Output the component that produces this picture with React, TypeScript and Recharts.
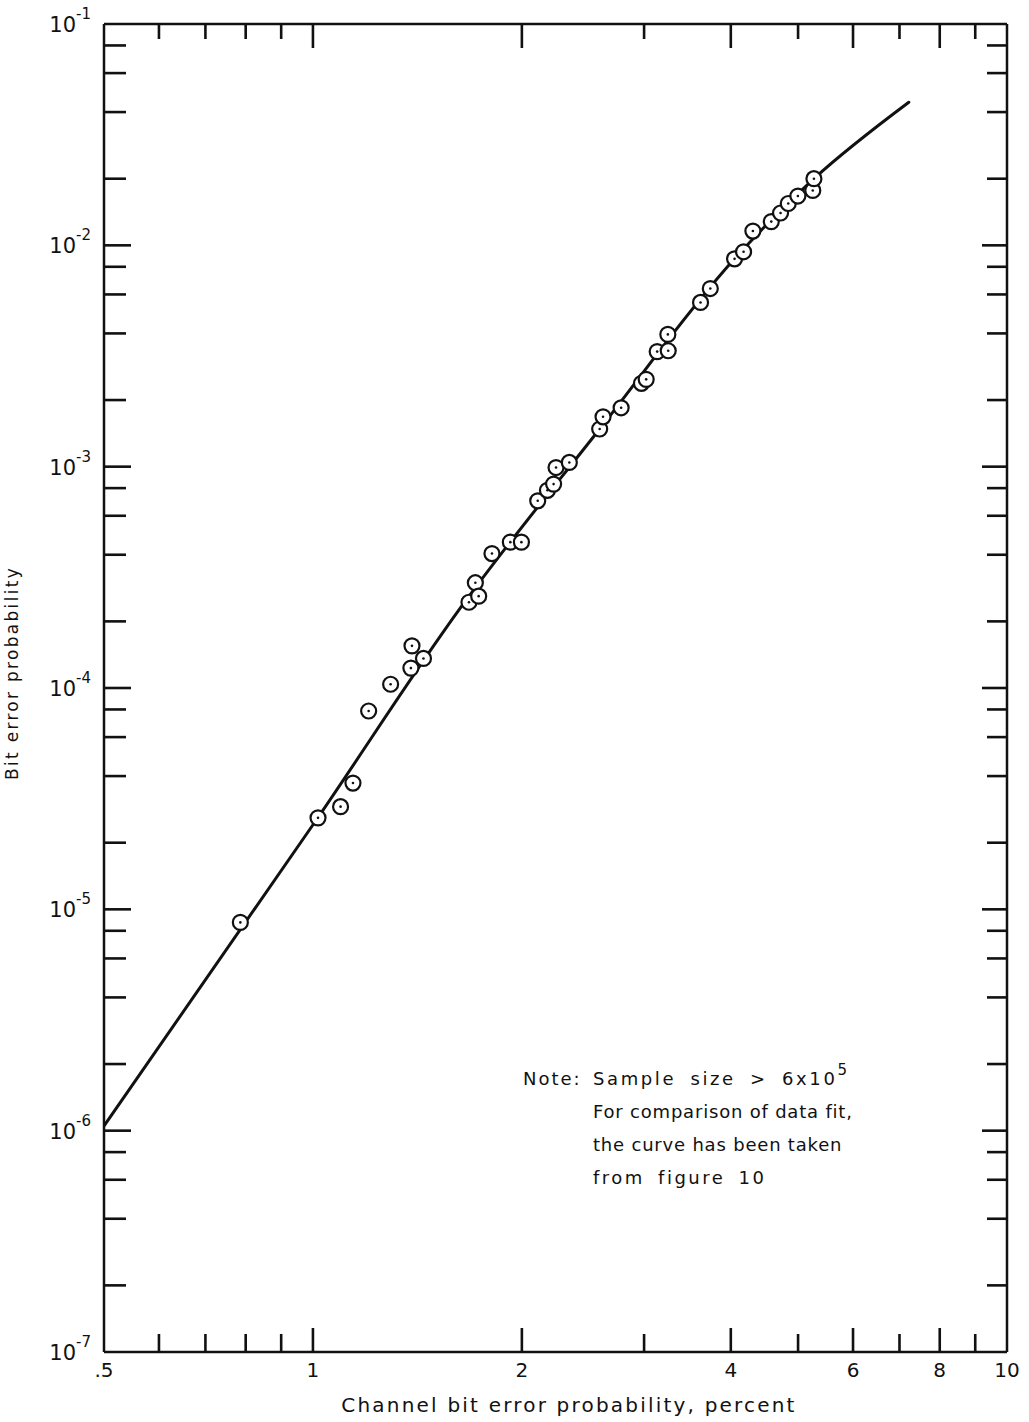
import { ComposedChart, Line, Scatter, XAxis, YAxis, Customized } from "recharts"

// measured points: channel bit error probability (percent) vs bit error probability
const pointX = [
  0.786, 1.017, 1.096, 1.142, 1.203, 1.294, 1.384, 1.389, 1.443, 1.678, 1.714, 1.733, 1.811, 1.925,
  1.997, 2.108, 2.177, 2.222, 2.24, 2.341, 2.589, 2.618, 2.78, 2.974, 3.021, 3.133, 3.25, 3.246,
  3.618, 3.737, 4.05, 4.173, 4.304, 4.575, 4.718, 4.84, 4.997, 5.25, 5.27,
]
const pointY = [
  8.73e-6, 2.59e-5, 2.91e-5, 3.72e-5, 7.87e-5, 1.04e-4, 1.23e-4, 1.55e-4, 1.36e-4, 2.44e-4, 2.99e-4,
  2.6e-4, 4.05e-4, 4.56e-4, 4.56e-4, 7.01e-4, 7.82e-4, 8.34e-4, 9.91e-4, 1.045e-3, 1.48e-3, 1.68e-3,
  1.845e-3, 2.38e-3, 2.48e-3, 3.31e-3, 3.34e-3, 3.96e-3, 5.52e-3, 6.38e-3, 8.69e-3, 9.35e-3, 1.16e-2,
  1.28e-2, 1.4e-2, 1.545e-2, 1.67e-2, 1.77e-2, 2.0e-2,
]

// curve taken from figure 10
const curveX = [0.5, 1.017, 1.631, 2.589, 4.05, 5.27, 7.22]
const curveY = [1.05e-6, 2.6e-5, 2.3e-4, 1.48e-3, 8.69e-3, 2.0e-2, 4.43e-2]

// axis ticks
const xTicks = [0.5, 0.6, 0.7, 0.8, 0.9, 1, 2, 3, 4, 5, 6, 7, 8, 9, 10]
const xMajor = [1, 2, 4, 6, 8]
const xLabels: { [k: string]: string } = { "0.5": ".5", "1": "1", "2": "2", "4": "4", "6": "6", "8": "8", "10": "10" }
const yExponents = [-7, -6, -5, -4, -3, -2, -1]
const yMultipliers = [1, 2, 4, 6, 8]

const pointData = pointX.map((x, i) => ({ x, y: pointY[i] }))
const curveData = curveX.map((x, i) => ({ x, y: curveY[i] }))

const yTicks: number[] = []
yExponents.forEach((e) => {
  yMultipliers.forEach((m) => {
    if (e === -1 && m > 1) return
    yTicks.push(Number((m * Math.pow(10, e)).toPrecision(3)))
  })
})

const FONT = "'DejaVu Sans', sans-serif"
const STROKE = "#111"

const isDecade = (v: number) => Math.abs(Math.log10(v) - Math.round(Math.log10(v))) < 1e-6

const BottomTick = (props: any) => {
  const { x, y, payload } = props
  const v = payload.value
  const len = xMajor.includes(v) ? 24 : 18
  const label = xLabels[String(v)]
  const edge = v === 0.5 || v === 10
  return (
    <g>
      {!edge && <line x1={x} x2={x} y1={y} y2={y - len} stroke={STROKE} strokeWidth={2.6} />}
      {label && (
        <text x={x} y={y + 25} textAnchor="middle" fontSize={20} fontFamily={FONT} fill={STROKE}>
          {label}
        </text>
      )}
    </g>
  )
}

const TopTick = (props: any) => {
  const { x, y, payload } = props
  const v = payload.value
  if (v === 0.5 || v === 10) return <g />
  const len = xMajor.includes(v) ? 24 : 15
  return <line x1={x} x2={x} y1={y} y2={y + len} stroke={STROKE} strokeWidth={2.6} />
}

const LeftTick = (props: any) => {
  const { x, y, payload } = props
  const v = payload.value
  const major = isDecade(v)
  const edge = v === 1e-7 || v === 0.1
  const exp = Math.round(Math.log10(v))
  return (
    <g>
      {!edge && <line x1={x} x2={x + (major ? 27 : 22)} y1={y} y2={y} stroke={STROKE} strokeWidth={2.6} />}
      {major && (
        <text x={x - 13} y={y + 8} textAnchor="end" fontSize={21} fontFamily={FONT} fill={STROKE}>
          10
          <tspan dy={-13} fontSize={15}>
            {"-" + Math.abs(exp)}
          </tspan>
        </text>
      )}
    </g>
  )
}

const RightTick = (props: any) => {
  const { x, y, payload } = props
  const v = payload.value
  if (v === 1e-7 || v === 0.1) return <g />
  const len = isDecade(v) ? 25 : 20
  return <line x1={x} x2={x - len} y1={y} y2={y} stroke={STROKE} strokeWidth={2.6} />
}

const Ring = (props: any) => {
  const { cx, cy } = props
  return (
    <g>
      <circle cx={cx} cy={cy} r={7.5} fill="#fff" stroke={STROKE} strokeWidth={2.2} />
      <circle cx={cx} cy={cy} r={1.3} fill={STROKE} />
    </g>
  )
}

const Texts = () => (
  <g fontFamily={FONT} fill={STROKE}>
    <text x={569} y={1412} textAnchor="middle" fontSize={20} letterSpacing={2.2}>
      Channel bit error probability, percent
    </text>
    <text
      x={18}
      y={673}
      textAnchor="middle"
      fontSize={17}
      letterSpacing={2.3}
      transform="rotate(-90, 18, 673)"
    >
      Bit error probability
    </text>
    <g fontSize={18} letterSpacing={0.8}>
      <text x={523} y={1085} letterSpacing={2}>
        Note:
      </text>
      <text x={593} y={1085} letterSpacing={2.6} wordSpacing={6}>
        Sample size &gt; 6x10
        <tspan dy={-10} fontSize={15}>
          5
        </tspan>
      </text>
      <text x={593} y={1118}>For comparison of data fit,</text>
      <text x={593} y={1151}>the curve has been taken</text>
      <text x={593} y={1184} letterSpacing={2.5} wordSpacing={5}>
        from figure 10
      </text>
    </g>
  </g>
)

export default function App() {
  return (
    <div style={{ position: "absolute", left: 0, top: 0, width: 1029, height: 1422, background: "#fff" }}>
      <ComposedChart width={1029} height={1422} margin={{ top: 4, right: 2, bottom: 40, left: 74 }}>
        <XAxis
          xAxisId="b"
          dataKey="x"
          type="number"
          scale="log"
          domain={[0.5, 10]}
          allowDataOverflow
          ticks={xTicks}
          interval={0}
          height={30}
          tickSize={0}
          tickMargin={0}
          tick={<BottomTick />}
          axisLine={{ stroke: STROKE, strokeWidth: 2.5 }}
        />
        <XAxis
          xAxisId="t"
          orientation="top"
          dataKey="x"
          type="number"
          scale="log"
          domain={[0.5, 10]}
          allowDataOverflow
          ticks={xTicks}
          interval={0}
          height={20}
          tickSize={0}
          tickMargin={0}
          tick={<TopTick />}
          axisLine={{ stroke: STROKE, strokeWidth: 2.5 }}
        />
        <YAxis
          yAxisId="l"
          dataKey="y"
          type="number"
          scale="log"
          domain={[1e-7, 1e-1]}
          allowDataOverflow
          ticks={yTicks}
          interval={0}
          width={30}
          tickSize={0}
          tickMargin={0}
          tick={<LeftTick />}
          axisLine={{ stroke: STROKE, strokeWidth: 2.5 }}
        />
        <YAxis
          yAxisId="r"
          orientation="right"
          dataKey="y"
          type="number"
          scale="log"
          domain={[1e-7, 1e-1]}
          allowDataOverflow
          ticks={yTicks}
          interval={0}
          width={20}
          tickSize={0}
          tickMargin={0}
          tick={<RightTick />}
          axisLine={{ stroke: STROKE, strokeWidth: 2.5 }}
        />
        <Line
          xAxisId="b"
          yAxisId="l"
          data={curveData}
          dataKey="y"
          type="monotone"
          stroke={STROKE}
          strokeWidth={3}
          strokeLinecap="round"
          dot={false}
          activeDot={false}
          isAnimationActive={false}
        />
        <Scatter
          xAxisId="b"
          yAxisId="l"
          data={pointData}
          dataKey="y"
          shape={<Ring />}
          isAnimationActive={false}
        />
        <Customized component={<Texts />} />
      </ComposedChart>
    </div>
  )
}
